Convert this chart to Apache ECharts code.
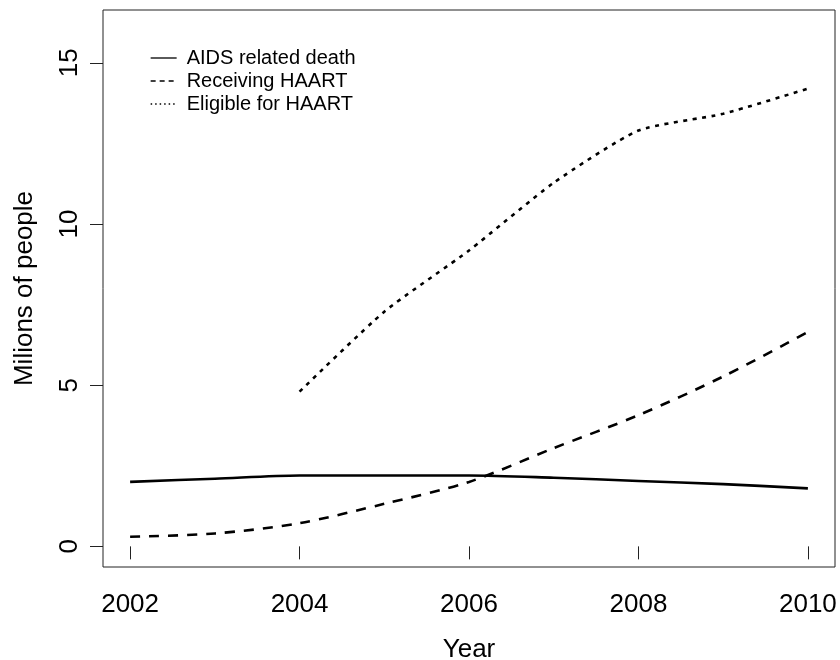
<!DOCTYPE html>
<html>
<head>
<meta charset="utf-8">
<script src="https://cdn.jsdelivr.net/npm/echarts@6/dist/echarts.min.js"></script>
<style>
  html, body { margin: 0; padding: 0; background: #fff; }
  #chart { width: 840px; height: 660px; }
</style>
</head>
<body>
<div id="chart"></div>
<script>
// HIV/AIDS indicators, millions of people per year
const years = [2002, 2003, 2004, 2005, 2006, 2007, 2008, 2009, 2010];
const aidsDeaths = [2.0, 2.1, 2.2, 2.2, 2.2, 2.13, 2.03, 1.93, 1.8];
const receivingHaart = [0.3, 0.4, 0.72, 1.32, 2.0, 3.05, 4.07, 5.27, 6.65];
const eligibleHaart = [null, null, 4.8, 7.28, 9.18, 11.28, 12.9, 13.42, 14.2];

const xTicks = [2002, 2004, 2006, 2008, 2010];
const yTicks = [0, 5, 10, 15];
const seriesNames = ['AIDS related death', 'Receiving HAART', 'Eligible for HAART'];

const font = 'Liberation Sans, Arial, Helvetica, sans-serif';
const pairs = vals => years.map((y, i) => [y, vals[i]]);

const chart = echarts.init(document.getElementById('chart'), null, { renderer: 'canvas' });

// legend keys: plain line samples, no marker
const hiddenMarker = { opacity: 0, borderWidth: 0 };

chart.setOption({
  backgroundColor: '#fff',
  animation: false,
  textStyle: { fontFamily: font, color: '#000' },
  grid: {
    left: 103, right: 5, top: 10, bottom: 93,
    outerBoundsMode: 'none', containLabel: false,
    show: true, borderColor: '#222', borderWidth: 1, backgroundColor: 'transparent'
  },
  legend: {
    orient: 'vertical',
    left: 150, top: 48, padding: 0,
    itemWidth: 26, itemHeight: 14, itemGap: 3,
    itemStyle: hiddenMarker,
    textStyle: { fontFamily: font, fontSize: 20, lineHeight: 20, color: '#000', padding: [0, 0, 0, 5] },
    data: [
      { name: seriesNames[0], itemStyle: hiddenMarker, lineStyle: { width: 1.3, type: 'solid', color: '#000' } },
      { name: seriesNames[1], itemStyle: hiddenMarker, lineStyle: { width: 1.3, type: [5, 4], color: '#000' } },
      { name: seriesNames[2], itemStyle: hiddenMarker, lineStyle: { width: 1.3, type: [1.5, 3], color: '#000' } }
    ]
  },
  xAxis: {
    type: 'value',
    min: 2001.68, max: 2010.32,
    name: 'Year', nameLocation: 'middle', nameGap: 70,
    nameTextStyle: { fontFamily: font, fontSize: 26, color: '#000' },
    axisLine: { show: false },
    splitLine: { show: false },
    axisTick: { show: true, inside: false, length: 13, lineStyle: { color: '#222', width: 1 }, customValues: xTicks },
    axisLabel: { fontFamily: font, fontSize: 26, color: '#000', margin: 25, customValues: xTicks, formatter: v => String(v) }
  },
  yAxis: {
    type: 'value',
    min: -0.64, max: 16.64,
    name: 'Milions of people', nameLocation: 'middle', nameGap: 65, nameRotate: 90,
    nameTextStyle: { fontFamily: font, fontSize: 26, color: '#000' },
    axisLine: { show: false },
    splitLine: { show: false },
    axisTick: { show: true, inside: false, length: 13, lineStyle: { color: '#222', width: 1 }, customValues: yTicks },
    axisLabel: { fontFamily: font, fontSize: 26, color: '#000', margin: 20, rotate: 90, customValues: yTicks, formatter: v => String(v) }
  },
  series: [
    {
      name: seriesNames[0], type: 'line', data: pairs(aidsDeaths),
      symbol: 'none', smooth: 0.3,
      lineStyle: { color: '#000', width: 2.6, type: 'solid' },
      itemStyle: { color: '#000' }
    },
    {
      name: seriesNames[1], type: 'line', data: pairs(receivingHaart),
      symbol: 'none', smooth: 0.3,
      lineStyle: { color: '#000', width: 2.6, type: [10, 9] },
      itemStyle: { color: '#000' }
    },
    {
      name: seriesNames[2], type: 'line', data: pairs(eligibleHaart),
      symbol: 'none', smooth: 0.2, connectNulls: false,
      lineStyle: { color: '#000', width: 2.6, type: [4, 5.5] },
      itemStyle: { color: '#000' }
    }
  ]
});
</script>
</body>
</html>
